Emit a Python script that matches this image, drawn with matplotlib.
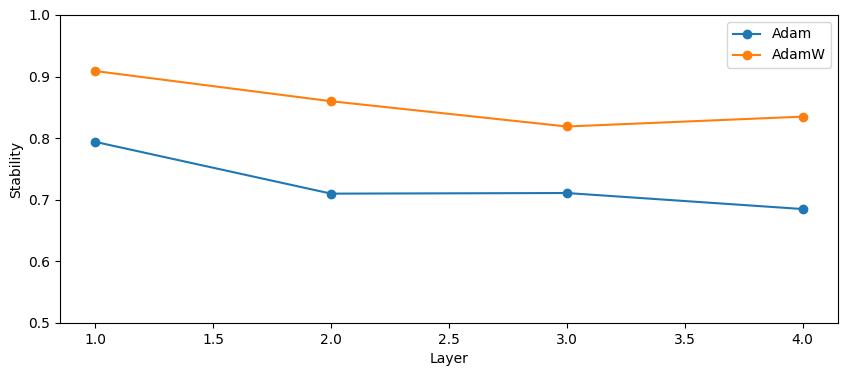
import matplotlib
matplotlib.use("Agg")
import matplotlib.pyplot as plt

LAYERS = [1.0, 2.0, 3.0, 4.0]
ADAM = [0.794, 0.710, 0.711, 0.685]
ADAMW = [0.909, 0.860, 0.819, 0.835]


def main():
    fig = plt.figure(figsize=(8.46, 3.76), dpi=100)
    ax = fig.add_axes([60 / 846, 53 / 376, 778 / 846, 308 / 376])

    ax.plot(LAYERS, ADAM, marker="o", color="#1f77b4", label="Adam")
    ax.plot(LAYERS, ADAMW, marker="o", color="#ff7f0e", label="AdamW")

    ax.set_ylim(0.5, 1.0)
    ax.set_xlabel("Layer")
    ax.set_ylabel("Stability")
    ax.legend(loc="upper right")

    fig.savefig("out.png", dpi=100)
    plt.close(fig)


if __name__ == "__main__":
    main()
